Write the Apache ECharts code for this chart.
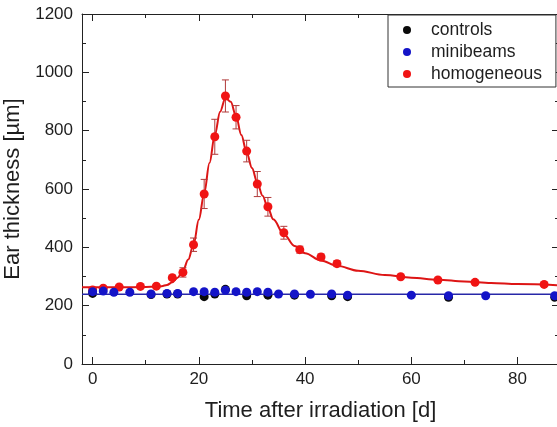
<!DOCTYPE html>
<html>
<head>
<meta charset="utf-8">
<script src="https://cdn.jsdelivr.net/npm/echarts@6/dist/echarts.min.js"></script>
<style>html,body{margin:0;padding:0;background:#fff}#c{width:557px;height:427px}</style>
</head>
<body>
<div id="c"></div>
<script>
// ---- data ----
const redDays = [0, 2, 5, 9, 12, 15, 17, 19, 21, 23, 25, 27, 29, 31, 33, 36, 39, 43, 46, 58, 65, 72, 85];
const redVals = [254, 260, 264, 266, 267, 296, 314, 409, 583, 779, 919, 846, 730, 617, 539, 450, 392, 367, 344, 299, 288, 280, 273];
const redErr  = [5, 5, 6, 6, 6, 8, 16, 23, 50, 60, 55, 40, 37, 43, 32, 22, 12, 10, 10, 5, 5, 5, 5];

const blueDays = [0, 2, 4, 7, 11, 14, 16, 19, 21, 23, 25, 27, 29, 31, 33, 35, 38, 41, 45, 48, 60, 67, 74, 87];
const blueVals = [248, 250, 246, 246, 240, 242, 242, 248, 248, 246, 253, 248, 246, 248, 246, 240, 240, 239, 240, 236, 236, 234, 234, 234];

const ctrlDays = [0, 11, 14, 16, 21, 23, 25, 29, 33, 38, 45, 48, 67, 87];
const ctrlVals = [242, 238, 240, 240, 231, 240, 256, 234, 236, 236, 234, 231, 229, 229];

const redFitDays = [-2, 0, 5, 10, 12, 13, 14, 15, 16, 17, 18, 19, 20, 21, 22, 23, 24, 25, 26, 27, 28, 29, 30, 31, 32, 33, 34, 36, 38, 40, 43, 46, 50, 55, 60, 65, 70, 75, 80, 87.8];
const redFitVals = [263, 263, 263, 264, 265, 267, 271, 280, 296, 320, 358, 410, 495, 585, 689, 785, 865, 912, 899, 850, 785, 725, 672, 622, 577, 535, 496, 445, 405, 380, 355, 337, 320, 305, 296, 289, 283, 278, 274, 270];

const blueFitDays = [-2, 87.8];
const blueFitVals = [239, 239];

const xMajor = [0, 20, 40, 60, 80];
const xMinor = [10, 30, 50, 70];
const seriesNames = ['controls', 'minibeams', 'homogeneous'];
const xTitle = 'Time after irradiation [d]';
const yTitle = 'Ear thickness [µm]';

// ---- chart ----
const FONT = "'Liberation Sans', Arial, sans-serif";
const TXT = '#1e1e1e';
const zip = (a, b) => a.map((v, i) => [v, b[i]]);
const X_MIN = -2, X_MAX = 87.8;
const plain = v => String(v);

function xAx(pos, ticks, len, showLine, showLabel, extra) {
  return Object.assign({
    type: 'value', position: pos, min: X_MIN, max: X_MAX,
    axisLine: { show: showLine, onZero: false, lineStyle: { color: '#222', width: 1 } },
    axisTick: { show: true, inside: true, length: len, customValues: ticks, lineStyle: { color: '#222' } },
    axisLabel: showLabel ? { customValues: ticks, formatter: plain, margin: 7, fontSize: 17, color: TXT, fontFamily: FONT } : { show: false },
    splitLine: { show: false }
  }, extra || {});
}
function yAx(pos, showLabel, extra) {
  return Object.assign({
    type: 'value', position: pos, min: 0, max: 1200, interval: 200,
    axisLine: { show: true, onZero: false, lineStyle: { color: '#222', width: 1 } },
    axisTick: { show: true, inside: true, length: 7, lineStyle: { color: '#222' } },
    minorTick: { show: true, splitNumber: 2, length: 4, lineStyle: { color: '#222' } },
    axisLabel: showLabel ? { formatter: plain, margin: 9, fontSize: 17, color: TXT, fontFamily: FONT } : { show: false },
    splitLine: { show: false }, minorSplitLine: { show: false }
  }, extra || {});
}

const chart = echarts.init(document.getElementById('c'), null, { renderer: 'canvas' });
chart.setOption({
  animation: false,
  backgroundColor: '#fff',
  grid: { left: 82, right: -2, top: 14, bottom: 63, containLabel: false, outerBoundsMode: 'none' },
  legend: {
    data: seriesNames,
    orient: 'vertical', left: 388, top: 15,
    padding: [4, 14, 2, 15], itemGap: 0,
    itemWidth: 8, itemHeight: 8, icon: 'circle',
    itemStyle: { opacity: 1 },
    borderColor: '#333', borderWidth: 1, backgroundColor: '#fff',
    textStyle: { fontSize: 17.5, color: TXT, fontFamily: FONT, lineHeight: 22, padding: [0, 0, 0, 15] },
    selectedMode: false
  },
  xAxis: [
    xAx('bottom', xMajor, 7, true, true, { name: xTitle, nameLocation: 'middle', nameGap: 36,
      nameTextStyle: { fontSize: 22, color: TXT, fontFamily: FONT } }),
    xAx('bottom', xMinor, 4, false, false),
    xAx('top', xMajor, 7, true, false),
    xAx('top', xMinor, 4, false, false)
  ],
  yAxis: [
    yAx('left', true, { name: yTitle, nameLocation: 'middle', nameGap: 48, nameRotate: 90,
      nameTextStyle: { fontSize: 22, color: TXT, fontFamily: FONT } }),
    yAx('right', false)
  ],
  series: [
    { name: 'homogeneous fit', type: 'line', data: zip(redFitDays, redFitVals), showSymbol: false,
      smooth: 0.35, smoothMonotone: 'x', lineStyle: { color: '#dd1515', width: 2 }, z: 2, silent: true },
    { name: 'errbars', type: 'custom', z: 3, silent: true,
      data: redDays.map((d, i) => [d, redVals[i], redErr[i]]),
      renderItem: function (params, api) {
        const x = api.value(0), y = api.value(1), e = api.value(2);
        const t = api.coord([x, y + e]), b = api.coord([x, y - e]);
        const c = 3.5;
        const st = { stroke: '#b03a3a', lineWidth: 1 };
        return { type: 'group', children: [
          { type: 'line', shape: { x1: t[0], y1: t[1], x2: b[0], y2: b[1] }, style: st },
          { type: 'line', shape: { x1: t[0] - c, y1: t[1], x2: t[0] + c, y2: t[1] }, style: st },
          { type: 'line', shape: { x1: b[0] - c, y1: b[1], x2: b[0] + c, y2: b[1] }, style: st }
        ] };
      }
    },
    { name: 'homogeneous', type: 'scatter', data: zip(redDays, redVals), symbol: 'circle', symbolSize: 9,
      itemStyle: { color: '#f01414', opacity: 1 }, z: 4 },
    { name: 'controls', type: 'scatter', data: zip(ctrlDays, ctrlVals), symbol: 'circle', symbolSize: 9,
      itemStyle: { color: '#0a0a0a', opacity: 1 }, z: 5 },
    { name: 'minibeams fit', type: 'line', data: zip(blueFitDays, blueFitVals), showSymbol: false,
      lineStyle: { color: '#2828a8', width: 1.5 }, z: 6, silent: true },
    { name: 'minibeams', type: 'scatter', data: zip(blueDays, blueVals), symbol: 'circle', symbolSize: 9,
      itemStyle: { color: '#1414c8', opacity: 1 }, z: 7 }
  ]
});
</script>
</body>
</html>
